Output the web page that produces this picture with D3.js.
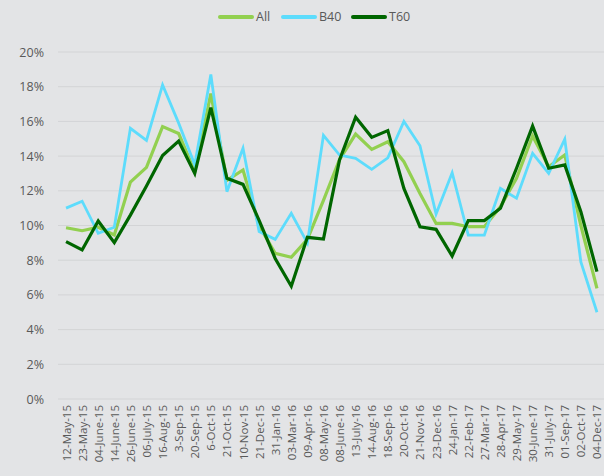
<!DOCTYPE html>
<html><head><meta charset="utf-8">
<script src="https://cdn.jsdelivr.net/npm/d3@7"></script>
<style>
html,body{margin:0;padding:0;background:#e3e4e6;}
svg{display:block;font-family:"Open Sans",sans-serif;}
</style></head>
<body><svg id="c" width="604" height="476"></svg>
<script>
const categories = ["12-May-15","23-May-15","04-June-15","14-June-15","26-June-15","06-July-15","16-Aug-15","3-Sep-15","20-Sep-15","6-Oct-15","21-Oct-15","10-Nov-15","21-Dec-15","31-Jan-16","03-Mar-16","09-Apr-16","08-May-16","08-June-16","13-July-16","14-Aug-16","18-Sep-16","20-Oct-16","21-Nov-16","23-Dec-16","24-Jan-17","22-Feb-17","27-Mar-17","28-Apr-17","29-May-17","30-June-17","31-July-17","01-Sep-17","02-Oct-17","04-Dec-17"];
const allValues = [9.87,9.7,9.9,9.45,12.5,13.35,15.7,15.3,13.1,17.6,12.6,13.2,10.0,8.4,8.17,9.2,11.45,13.8,15.27,14.39,14.83,13.68,11.85,10.12,10.12,9.93,9.93,11.08,12.72,15.16,13.39,14.06,10.0,6.38];
const b40Values = [11.0,11.4,9.55,9.9,15.6,14.9,18.1,15.9,13.5,18.7,11.95,14.45,9.65,9.2,10.7,9.0,15.2,14.06,13.87,13.24,13.9,16.0,14.6,10.66,13.04,9.45,9.45,12.14,11.57,14.16,13.0,14.97,7.9,5.0];
const t60Values = [9.07,8.59,10.26,9.01,10.6,12.28,14.03,14.87,13.0,16.8,12.72,12.37,10.3,8.1,6.5,9.32,9.22,13.78,16.24,15.08,15.47,12.14,9.93,9.78,8.24,10.28,10.28,10.99,13.3,15.73,13.3,13.49,10.8,7.34];
const seriesNames = ["All","B40","T60"];
const yTicks = [0,2,4,6,8,10,12,14,16,18,20];

const colors = {"All":"#92d050","B40":"#5ddcfc","T60":"#006600"};
const widths = {"All":3.2,"B40":2.8,"T60":3.2};
const series = [
  {name:"All", values:allValues},
  {name:"B40", values:b40Values},
  {name:"T60", values:t60Values}
];

const svg = d3.select("#c");
const pLeft = 58, pRight = 605, pTop = 52, pBottom = 399;

const x = d3.scalePoint().domain(categories).range([pLeft, pRight]).padding(0.5);
const y = d3.scaleLinear().domain([0,20]).range([pBottom, pTop]);

svg.append("g").selectAll("line").data(yTicks).join("line")
  .attr("x1", pLeft).attr("x2", pRight)
  .attr("y1", d=>y(d)).attr("y2", d=>y(d))
  .attr("stroke", "#d3d4d6").attr("stroke-width", 1);

const yAxis = d3.axisLeft(y).tickValues(yTicks).tickFormat(d=>d+"%").tickSize(0).tickPadding(0);
const gy = svg.append("g").attr("transform", `translate(44,0)`).call(yAxis);
gy.select(".domain").remove();
gy.selectAll("text").attr("fill","#595959").style("font-size","12.5px").style("font-family","'Open Sans',sans-serif");

const xAxis = d3.axisBottom(x).tickSize(0).tickPadding(0);
const gx = svg.append("g").attr("transform", `translate(0,${pBottom})`).call(xAxis);
gx.select(".domain").remove();
gx.selectAll("text")
  .attr("fill","#595959").style("font-size","11.5px").style("font-family","'Open Sans',sans-serif")
  .attr("text-anchor","end").attr("dy",null)
  .attr("transform","translate(4,6) rotate(-90)")
  .attr("x",0).attr("y",0);

const line = d3.line().x((d,i)=>x(categories[i])).y(d=>y(d));
svg.append("g").selectAll("path").data(series).join("path")
  .attr("d", d=>line(d.values))
  .attr("fill","none")
  .attr("stroke", d=>colors[d.name])
  .attr("stroke-width", d=>widths[d.name])
  .attr("stroke-linejoin","miter");

const legendX = [220, 283, 353];
const lg = svg.append("g");
seriesNames.forEach((n,i)=>{
  lg.append("line").attr("x1",legendX[i]).attr("x2",legendX[i]+32).attr("y1",17).attr("y2",17)
    .attr("stroke",colors[n]).attr("stroke-width",4).attr("stroke-linecap","round");
  lg.append("text").attr("x",legendX[i]+36).attr("y",17).attr("dy","0.35em")
    .attr("fill","#595959").style("font-size","12.5px").text(n);
});
</script></body></html>
